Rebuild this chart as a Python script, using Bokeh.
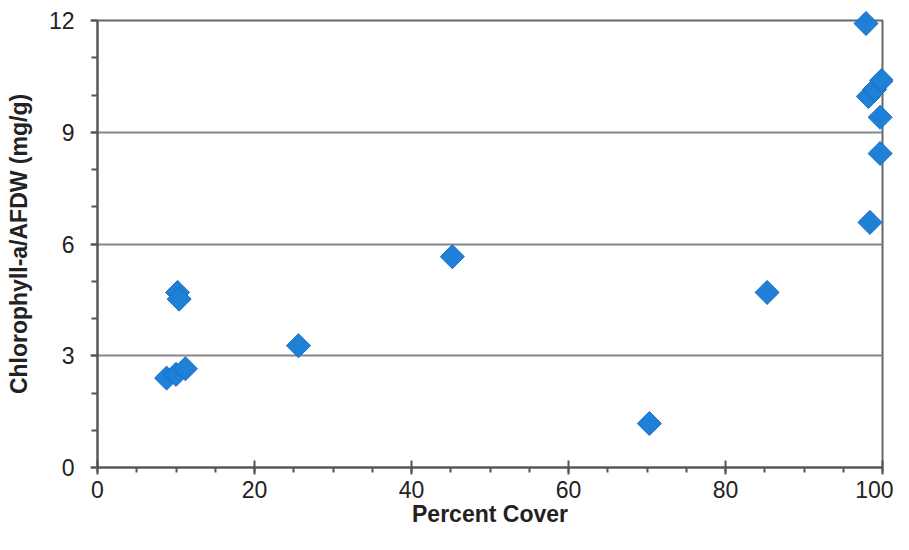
from bokeh.plotting import figure
from bokeh.models import Range1d, FixedTicker
from bokeh.embed import file_html
from bokeh.resources import INLINE
import numpy as np

# Data
percent_cover = [8.8, 10.0, 11.2, 10.2, 10.4, 25.6, 45.2, 70.3, 85.3,
                 97.9, 98.2, 99.0, 99.9, 99.7, 99.7, 98.4]
chl_afdw = [2.40, 2.50, 2.65, 4.70, 4.52, 3.27, 5.66, 1.18, 4.70,
            11.92, 9.96, 10.15, 10.39, 9.40, 8.43, 6.58]

x_ticks = [0, 20, 40, 60, 80, 100]
x_minor = list(range(0, 101, 5))
y_ticks = [0, 3, 6, 9, 12]
y_minor = list(range(0, 13, 1))

x_title = "Percent Cover"
y_title = "Chlorophyll-a/AFDW (mg/g)"

p = figure(width=893, height=534,
           x_range=Range1d(x_ticks[0], x_ticks[-1]),
           y_range=Range1d(y_ticks[0], y_ticks[-1]),
           output_backend="svg", toolbar_location=None,
           min_border_left=97, min_border_right=11,
           min_border_top=20, min_border_bottom=67)

p.background_fill_color = "white"
p.border_fill_color = "white"
p.outline_line_color = "#666666"
p.outline_line_width = 2
p.outline_line_alpha = 1.0

p.xgrid.visible = False
p.ygrid.ticker = FixedTicker(ticks=y_ticks)
p.ygrid.grid_line_color = "#858585"
p.ygrid.grid_line_width = 2

axis_color = "#555555"
for ax in (p.xaxis[0], p.yaxis[0]):
    ax.axis_line_color = axis_color
    ax.axis_line_width = 2
    ax.major_tick_line_color = axis_color
    ax.major_tick_line_width = 2
    ax.minor_tick_line_color = axis_color
    ax.minor_tick_line_width = 2
    ax.major_label_text_font = "Liberation Sans"
    ax.major_label_text_font_size = "23px"
    ax.major_label_text_color = "#222222"
    ax.axis_label_text_font = "Liberation Sans"
    ax.axis_label_text_font_style = "bold"
    ax.axis_label_text_font_size = "23px"
    ax.axis_label_text_color = "#222222"

p.xaxis.ticker = FixedTicker(ticks=x_ticks, minor_ticks=x_minor)
p.yaxis.ticker = FixedTicker(ticks=y_ticks, minor_ticks=y_minor)

p.xaxis.major_tick_in = 7
p.xaxis.major_tick_out = 7
p.xaxis.minor_tick_in = 0
p.xaxis.minor_tick_out = 5
p.xaxis.major_label_standoff = 6
p.xaxis.axis_label = x_title
p.xaxis.axis_label_standoff = 0

p.yaxis.major_tick_in = 0
p.yaxis.major_tick_out = 7
p.yaxis.minor_tick_in = 0
p.yaxis.minor_tick_out = 6
p.yaxis.major_label_standoff = 16
p.yaxis.axis_label = y_title
p.yaxis.axis_label_standoff = 14

p.scatter(percent_cover, chl_afdw, marker="square", size=17, angle=np.pi / 4,
          fill_color="#1f80d8", line_color="#1a6cc0", line_width=1,
          level="overlay")

open("out.html", "w").write(file_html(p, INLINE))
